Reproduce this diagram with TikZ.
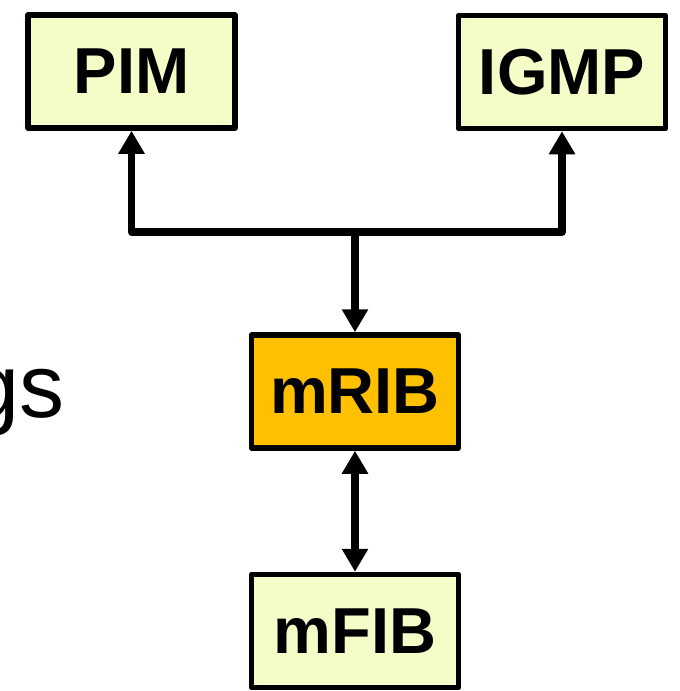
\documentclass[tikz,border=0pt]{standalone}
\usepackage{fontspec}
\setmainfont{Liberation Sans}
\usetikzlibrary{arrows.meta}
\definecolor{paleyellow}{RGB}{246,252,200}
\definecolor{riborange}{RGB}{255,192,0}
\tikzset{
  block/.style={draw=black, line width=5.5pt, line join=round, minimum width=207pt,
    minimum height=113pt, inner sep=0pt, font=\fontsize{65}{65}\selectfont\bfseries},
  tip/.tip={Triangle[width=25pt,length=23pt]},
  conn/.style={line width=7.5pt, line join=round, -tip},
  biconn/.style={line width=7.5pt, tip-tip}
}
\begin{document}
\begin{tikzpicture}[x=1pt,y=-1pt]
  \useasboundingbox (0,0) rectangle (680,691);
  \clip (0,0) rectangle (680,691);
  \fill[white] (0,0) rectangle (680,691);

  \node[block, fill=paleyellow] (pim)  at (131.5,71.5) {PIM};
  \node[block, fill=paleyellow] (igmp) at (562,72)     {IGMP};
  \node[block, fill=riborange]  (mrib) at (355,391.5)  {mRIB};
  \node[block, fill=paleyellow] (mfib) at (355,631)    {mFIB};

  \node[anchor=base east, inner sep=0pt, font=\fontsize{90}{90}\selectfont] (tail) at (65,417) {gs};

  \coordinate (j) at (355,232);
  \draw[conn] (j) -- (mrib.north);
  \draw[conn] (j) -| (pim.south);
  \draw[conn] (j) -| (igmp.south);
  \draw[biconn] (mrib.south) -- (mfib.north);
\end{tikzpicture}
\end{document}
